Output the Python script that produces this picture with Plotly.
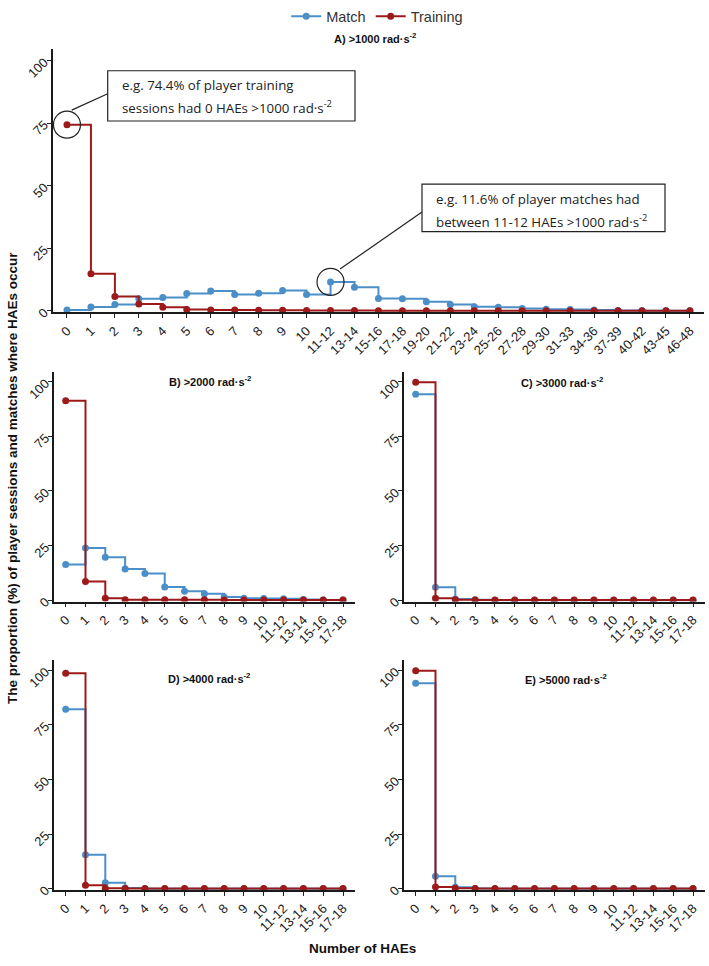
import plotly.graph_objects as go

# ---------------- data ----------------
cats_A = ["0", "1", "2", "3", "4", "5", "6", "7", "8", "9", "10",
          "11-12", "13-14", "15-16", "17-18", "19-20", "21-22", "23-24",
          "25-26", "27-28", "29-30", "31-33", "34-36", "37-39", "40-42",
          "43-45", "46-48"]
match_A = [0.4, 1.6, 2.6, 4.9, 5.4, 7.0, 8.0, 6.6, 7.1, 8.2, 6.6,
           11.6, 9.5, 5.0, 4.9, 3.7, 2.6, 1.7, 1.5, 1.0, 0.7,
           0.6, 0.4, 0.2, 0.1, 0.1, 0.1]
training_A = [74.4, 14.9, 5.8, 2.8, 1.5, 0.6, 0.4, 0.4, 0.3, 0.3, 0.2,
              0.2, 0.2, 0.1, 0.1, 0.1, 0.1, 0.1, 0.1, 0.1, 0.1,
              0.1, 0.1, 0.1, 0.1, 0.1, 0.1]

cats_small = ["0", "1", "2", "3", "4", "5", "6", "7", "8", "9", "10",
              "11-12", "13-14", "15-16", "17-18"]
match_B = [16.4, 23.9, 19.7, 14.3, 12.2, 6.0, 4.1, 3.0, 1.5, 0.9, 0.8, 0.7, 0.3, 0.1, 0.1]
training_B = [91.3, 8.6, 0.9, 0.2, 0.2, 0.2, 0.2, 0.2, 0.1, 0.1, 0.1, 0.1, 0.1, 0.1, 0.1]
match_C = [94.3, 5.9, 0.6, 0.2, 0.0, 0.0, 0.0, 0.0, 0.0, 0.0, 0.0, 0.0, 0.0, 0.0, 0.0]
training_C = [99.8, 0.9, 0.2, 0.1, 0.1, 0.1, 0.1, 0.1, 0.1, 0.1, 0.1, 0.1, 0.1, 0.1, 0.1]
match_D = [82.1, 15.5, 2.7, 0.3, 0.0, 0.0, 0.0, 0.0, 0.0, 0.0, 0.0, 0.0, 0.0, 0.0, 0.0]
training_D = [98.6, 1.6, 0.2, 0.1, 0.1, 0.1, 0.1, 0.1, 0.1, 0.1, 0.1, 0.1, 0.1, 0.1, 0.1]
match_E = [94.0, 5.7, 0.6, 0.1, 0.0, 0.0, 0.0, 0.0, 0.0, 0.0, 0.0, 0.0, 0.0, 0.0, 0.0]
training_E = [99.7, 0.8, 0.2, 0.1, 0.1, 0.1, 0.1, 0.1, 0.1, 0.1, 0.1, 0.1, 0.1, 0.1, 0.1]

panel_titles = ["A) >1000 rad·s<sup>-2</sup>", "B) >2000 rad·s<sup>-2</sup>",
                "C) >3000 rad·s<sup>-2</sup>", "D) >4000 rad·s<sup>-2</sup>",
                "E) >5000 rad·s<sup>-2</sup>"]
y_ticks = [0, 25, 50, 75, 100]

# ---------------- style / layout ----------------
W, H = 709, 966
BLUE = "#4B8FC8"
RED = "#9C1A1A"
FONT = "Liberation Sans, Arial, sans-serif"

def px_x(p):
    return p / W

def px_y(p):
    return 1 - p / H

panels = [
    (cats_A, match_A, training_A, (52.6, 704.3), (312, 45), (375.5, 33.5)),
    (cats_small, match_B, training_B, (53.8, 354.9), (605.3, 372.3), (210, 381.7)),
    (cats_small, match_C, training_C, (403.8, 704.9), (605.3, 372.3), (561.7, 383)),
    (cats_small, match_D, training_D, (53.8, 354.9), (898, 665), (209, 682.7)),
    (cats_small, match_E, training_E, (403.8, 704.9), (898, 665), (566, 684)),
]

fig = go.Figure()
layout_axes = {}
annotations = []
for i, (cats, m, t, xd, yd, tpos) in enumerate(panels):
    sfx = "" if i == 0 else str(i + 1)
    xa, ya = "x" + sfx, "y" + sfx
    fig.add_trace(go.Scatter(
        x=cats, y=m, mode="lines+markers", name="Match",
        line=dict(color=BLUE, width=2, shape="hv"),
        marker=dict(color=BLUE, size=7),
        showlegend=(i == 0), legendgroup="match", xaxis=xa, yaxis=ya))
    fig.add_trace(go.Scatter(
        x=cats, y=t, mode="lines+markers", name="Training",
        line=dict(color=RED, width=2, shape="hv"),
        marker=dict(color=RED, size=7),
        showlegend=(i == 0), legendgroup="training", xaxis=xa, yaxis=ya))
    common = dict(showline=True, linecolor="#1a1a1a", linewidth=1.5,
                  ticks="outside", ticklen=4, tickwidth=1, tickcolor="#222",
                  showgrid=False, zeroline=False, tickangle=-45,
                  tickfont=dict(family=FONT, size=13, color="#222"))
    layout_axes["xaxis" + sfx] = dict(
        common, type="category", categoryorder="array", categoryarray=cats,
        range=[-0.6, len(cats) - 1 + 0.6],
        domain=[px_x(xd[0]), px_x(xd[1])], anchor=ya)
    layout_axes["yaxis" + sfx] = dict(
        common, range=[-0.6, 104.5], tickvals=y_ticks,
        domain=[px_y(yd[0]), px_y(yd[1])], anchor=xa)
    annotations.append(dict(
        text="<b>" + panel_titles[i] + "</b>", xref="paper", yref="paper",
        x=px_x(tpos[0]), y=px_y(tpos[1]), xanchor="center", yanchor="middle",
        showarrow=False, font=dict(family=FONT, size=11, color="#111")))

# axis titles
annotations.append(dict(
    text="<b>Number of HAEs</b>", xref="paper", yref="paper",
    x=px_x(362), y=px_y(957), xanchor="center", yanchor="middle",
    showarrow=False, font=dict(family=FONT, size=13.5, color="#111")))
annotations.append(dict(
    text="<b>The proportion (%) of player sessions and matches where HAEs occur</b>",
    xref="paper", yref="paper", x=px_x(12), y=px_y(480), textangle=-90,
    xanchor="center", yanchor="middle", showarrow=False,
    font=dict(family=FONT, size=13.5, color="#111")))

# callout text
BOXFONT = dict(family="Open Sans, Noto Sans, sans-serif", size=13.3, color="#222")
callouts = [
    ("e.g. 74.4% of player training", 120, 81),
    ("sessions had 0 HAEs >1000 rad·s<sup>-2</sup>", 120, 103.3),
    ("e.g. 11.6% of player matches had", 434, 196.7),
    ("between 11-12 HAEs >1000 rad·s<sup>-2</sup>", 434, 219),
]
for txt, cx, cy in callouts:
    annotations.append(dict(
        text=txt, xref="paper", yref="paper", x=px_x(cx), y=px_y(cy),
        xanchor="left", yanchor="middle", showarrow=False, font=BOXFONT))

shapes = []
# callout boxes
for (x0, y0, x1, y1) in [(107.7, 66.7, 355, 117.7), (422, 181.7, 665, 230)]:
    shapes.append(dict(type="rect", xref="paper", yref="paper",
                       x0=px_x(x0), x1=px_x(x1), y0=px_y(y1), y1=px_y(y0),
                       line=dict(color="#222", width=1.2), fillcolor="rgba(0,0,0,0)"))
# leader lines
for (x0, y0, x1, y1) in [(71.7, 106.7, 107.7, 90), (340, 268, 422, 210)]:
    shapes.append(dict(type="line", xref="paper", yref="paper",
                       x0=px_x(x0), x1=px_x(x1), y0=px_y(y0), y1=px_y(y1),
                       line=dict(color="#222", width=1.2)))
# highlight circles anchored at data points
for (idx, val) in [(0, training_A[0]), (11, match_A[11])]:
    shapes.append(dict(type="circle", xref="x", yref="y",
                       xsizemode="pixel", ysizemode="pixel",
                       xanchor=idx, yanchor=val,
                       x0=-13.5, x1=13.5, y0=-13.5, y1=13.5,
                       line=dict(color="#222", width=1.2)))

fig.update_layout(
    width=W, height=H, margin=dict(l=0, r=0, t=0, b=0),
    plot_bgcolor="white", paper_bgcolor="white",
    font=dict(family=FONT, color="#222"),
    showlegend=True,
    legend=dict(orientation="h", x=0.532, xanchor="center", y=1.005, yanchor="top",
                font=dict(family=FONT, size=14.5, color="#333"),
                itemwidth=30, bgcolor="rgba(0,0,0,0)"),
    annotations=annotations, shapes=shapes,
    **layout_axes)

fig.write_html("out.html")
